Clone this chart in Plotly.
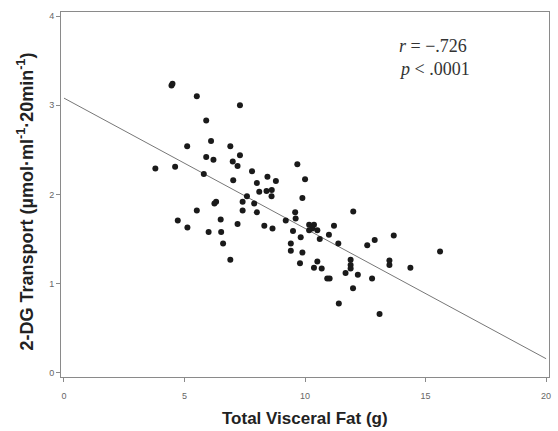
import plotly.graph_objects as go

visceral_fat = [4.46, 4.50, 5.51, 7.30, 5.90, 6.10, 5.11, 6.90, 7.30, 5.90,
                6.20, 7.00, 7.20, 3.79, 4.61, 5.80, 7.80, 8.44, 7.02, 8.00,
                8.10, 8.40, 7.59, 7.41, 7.89, 6.31, 6.24, 5.51, 7.41, 8.00,
                4.72, 6.50, 7.20, 8.31, 5.12, 6.00, 6.52, 6.60, 6.90, 9.68,
                8.79, 10.00, 8.62, 8.61, 9.89, 12.00, 9.59, 9.61, 9.20, 10.17,
                10.37, 10.30, 10.51, 10.17, 11.20, 8.65, 9.50, 10.99, 9.82, 10.61,
                11.38, 12.89, 12.58, 9.41, 9.41, 9.89, 10.51, 9.79, 11.89, 11.89,
                11.89, 10.37, 10.69, 11.68, 12.19, 10.92, 11.02, 12.78, 11.99, 13.68,
                15.60, 13.50, 13.50, 14.37, 11.40, 13.09]
transport = [3.22, 3.24, 3.10, 3.00, 2.83, 2.60, 2.54, 2.54, 2.44, 2.42,
             2.39, 2.37, 2.32, 2.29, 2.31, 2.23, 2.26, 2.20, 2.16, 2.13,
             2.03, 2.04, 1.98, 1.92, 1.90, 1.92, 1.90, 1.82, 1.82, 1.80,
             1.71, 1.72, 1.67, 1.65, 1.63, 1.58, 1.58, 1.45, 1.27, 2.34,
             2.15, 2.17, 2.05, 1.98, 1.96, 1.81, 1.80, 1.73, 1.71, 1.66,
             1.66, 1.62, 1.60, 1.60, 1.65, 1.62, 1.59, 1.55, 1.52, 1.50,
             1.45, 1.49, 1.43, 1.45, 1.37, 1.35, 1.25, 1.23, 1.27, 1.21,
             1.17, 1.18, 1.17, 1.12, 1.10, 1.06, 1.06, 1.06, 0.95, 1.54,
             1.36, 1.26, 1.21, 1.18, 0.78, 0.66]

fit_x = [0, 20]
fit_y = [3.08, 0.16]

x_ticks = [0, 5, 10, 15, 20]
y_ticks = [0, 1, 2, 3, 4]

stats_lines = ["<i>r</i> = \u2212.726", "<i>p</i> < .0001"]

fig = go.Figure()
fig.add_trace(go.Scatter(x=fit_x, y=fit_y, mode="lines",
                         line=dict(color="#777777", width=1), hoverinfo="skip"))
fig.add_trace(go.Scatter(x=visceral_fat, y=transport, mode="markers",
                         marker=dict(color="#1a1a1a", size=6)))

axis_common = dict(showgrid=False, zeroline=False, showline=True, linecolor="#8a8a8a",
                   linewidth=1, mirror=True, ticks="outside", ticklen=4, tickcolor="#8a8a8a",
                   tickfont=dict(family="Liberation Sans", size=9, color="#666666"))

fig.update_layout(
    width=558, height=431,
    margin=dict(l=61, r=7, t=12, b=54),
    paper_bgcolor="white", plot_bgcolor="white",
    showlegend=False,
    xaxis=dict(range=[-0.124, 20.12], tickvals=x_ticks, ticklabelstandoff=6, **axis_common),
    yaxis=dict(range=[-0.045, 4.045], tickvals=y_ticks, **axis_common),
    annotations=[
        dict(text="<b>Total Visceral Fat (g)</b>", xref="paper", yref="paper",
             x=0.5, y=-0.115, xanchor="center", yanchor="middle", showarrow=False,
             font=dict(family="Liberation Sans", size=17, color="#222222")),
        dict(text="<b>2-DG Transport (\u00b5mol\u00b7ml<sup>-1</sup>\u00b720min<sup>-1</sup>)</b>",
             xref="paper", yref="paper", x=-0.073, y=0.482, textangle=-90,
             xanchor="center", yanchor="middle", showarrow=False,
             font=dict(family="Liberation Sans", size=18, color="#222222")),
        dict(text=stats_lines[0], x=13.8, y=3.66, xanchor="left", yanchor="middle",
             showarrow=False, font=dict(family="Liberation Serif", size=18, color="#333333")),
        dict(text=stats_lines[1], x=13.8, y=3.41, xanchor="left", yanchor="middle",
             showarrow=False, font=dict(family="Liberation Serif", size=18, color="#333333")),
    ],
)

fig.write_html("out.html", config={"displayModeBar": False},
               post_script="document.body.style.margin='0px';")
